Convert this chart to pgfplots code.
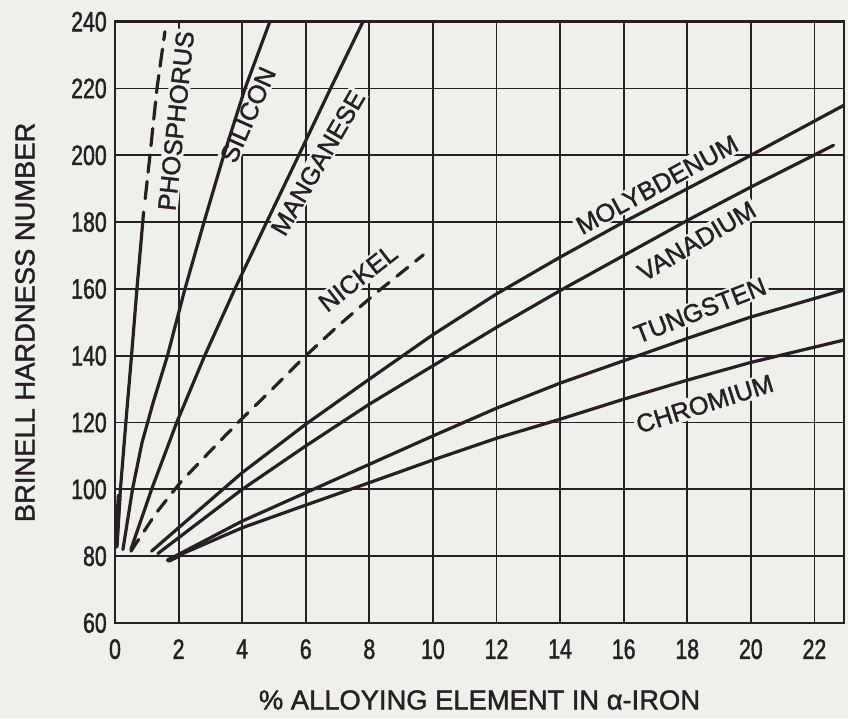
\documentclass[border=0pt]{standalone}
\usepackage{pgfplots}
\pgfplotsset{compat=1.18}
\usepackage{fontspec}
\setmainfont{Liberation Sans}[FakeBold=1.5]
\newfontfamily\tickfamily{Liberation Sans}[FakeStretch=0.76, FakeBold=1.5]
\usetikzlibrary{backgrounds}
\definecolor{ink}{RGB}{38,32,34}
\definecolor{bg}{RGB}{239,239,236}
\tikzset{
  lab/.style={font=\fontsize{19}{22}\selectfont, text=ink, fill=bg, inner sep=1.5pt},
  curve/.style={line width=2.4pt, draw=ink, line cap=round, line join=round},
}
\begin{document}
\begin{tikzpicture}[show background rectangle, inner frame sep=0pt,
  background rectangle/.style={fill=bg, draw=none}]
\begin{axis}[
  name=ax, scale only axis, width=546.75pt, height=451pt,
  xmin=0, xmax=22.93, ymin=60, ymax=240,
  xtick={0,2,...,22}, ytick={60,80,...,240},
  grid=major,
  major grid style={line width=1.4pt, draw=ink},
  axis line style={line width=1.9pt, draw=ink},
  major tick length=0pt,
  /pgf/number format/assume math mode=true,
  tick label style={font=\tickfamily\fontsize{21}{25}\selectfont, text=ink, inner sep=0pt},
  xticklabel style={anchor=north, yshift=-12pt},
  yticklabel style={anchor=east, xshift=-6pt},
  xlabel={\% ALLOYING ELEMENT IN α-IRON},
  ylabel={BRINELL HARDNESS NUMBER},
  label style={font=\fontsize{20.5}{24}\selectfont, text=ink},
  xlabel style={at={(axis description cs:0.5,-0.128)}, anchor=center, inner sep=0pt},
  ylabel style={at={(axis description cs:-0.1235,0.5)}, anchor=center, inner sep=0pt},
]
% labels (drawn first, their fill interrupts the grid)
\node[lab, rotate=84] at (axis cs:1.92,210.3) {PHOSPHORUS};
\node[lab, rotate=66] at (axis cs:4.18,212.1) {SILICON};
\node[lab, rotate=60] at (axis cs:6.38,197.7) {MANGANESE};
\node[lab, rotate=38] at (axis cs:7.64,163.3) {NICKEL};
\node[lab, rotate=28.5] at (axis cs:17.05,191.2) {MOLYBDENUM};
\node[lab, rotate=30.5] at (axis cs:18.3,174.3) {VANADIUM};
\node[lab, rotate=21.3] at (axis cs:18.4,153.6) {TUNGSTEN};
\node[lab, rotate=17.5] at (axis cs:18.55,125.6) {CHROMIUM};
% phosphorus
\addplot[curve] coordinates {(0.05,83) (0.17,100) (0.35,121) (0.52,140) (0.69,160) (0.9,183)};
\addplot[curve, line width=3.6pt] coordinates {(0.04,83) (0.13,98)};
\addplot[curve, dash pattern=on 13pt off 7pt] coordinates {(0.95,187) (1.1,200) (1.32,220) (1.57,237)};
% silicon
\addplot[curve] coordinates {(0.25,82) (0.55,100) (0.85,114) (1.2,126) (1.65,140) (2.2,160) (2.8,180) (3.42,200) (4.09,220) (4.87,240)};
% manganese
\addplot[curve] coordinates {(0.5,82) (1.15,100) (1.94,120) (2.82,140) (3.77,160) (4.77,180) (5.78,200) (6.78,220) (7.8,240)};
% nickel
\addplot[curve, dash pattern=on 10.5pt off 7.5pt] coordinates {(0.5,81.5) (1.3,93) (2.05,102) (2.9,110.5) (3.9,120.3) (5,130.5) (6,140) (7,148.8) (8.2,158.7) (9.7,170.2)};
% molybdenum
\addplot[curve] coordinates {(1.15,81.5) (4,105) (6,119.5) (8,133) (10,146.3) (12,158.5) (14,169.5) (16,180) (20,200) (22.93,215)};
% vanadium
\addplot[curve] coordinates {(1.35,80.8) (4,100) (6,113) (8,125.5) (10,137) (12,148.5) (14,159.5) (16,170) (18,180.5) (20,190.5) (22.6,203)};
% tungsten
\addplot[curve] coordinates {(1.65,78.8) (4,90.5) (6,99) (8,107.5) (10,116) (12,124.3) (14,131.8) (16,138.5) (18,145.2) (20,151.6) (22.93,159.7)};
% chromium
\addplot[curve] coordinates {(1.65,78.8) (4,88.5) (6,95.3) (8,102) (10,108.8) (12,115.3) (14,121) (16,127) (18,132.7) (20,138) (22.93,144.7)};
\addplot[curve, line width=3.6pt] coordinates {(1.7,78.8) (2.05,80.4)};
\end{axis}
\path (ax.south west) ++(-86.25pt,-71.25pt) rectangle ++(636pt,538.5pt);
\end{tikzpicture}
\end{document}
